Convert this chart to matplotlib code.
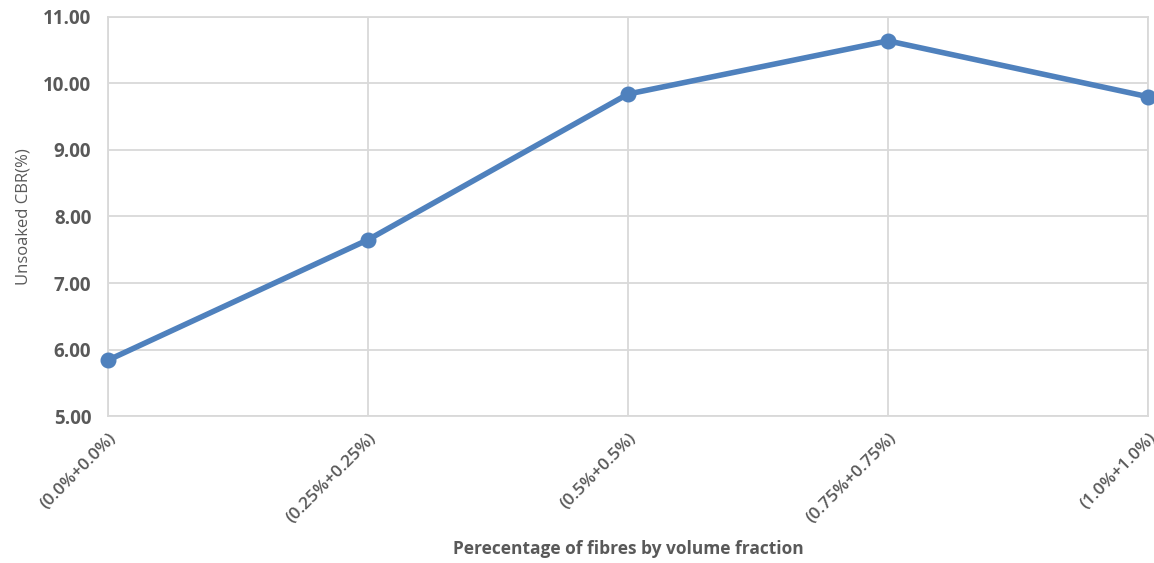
import matplotlib
matplotlib.use("Agg")
import matplotlib.pyplot as plt

categories = ["(0.0%+0.0%)", "(0.25%+0.25%)", "(0.5%+0.5%)", "(0.75%+0.75%)", "(1.0%+1.0%)"]
cbr_values = [5.84, 7.65, 9.84, 10.64, 9.80]
y_ticks = [5, 6, 7, 8, 9, 10, 11]

plt.rcParams['font.family'] = ['Open Sans', 'DejaVu Sans']

fig = plt.figure(figsize=(11.54, 5.63), dpi=100)
ax = fig.add_axes([0.0936, 0.261, 0.9012, 0.709])

x = list(range(len(categories)))
ax.plot(x, cbr_values, color="#4f81bd", lw=4.0, marker="o", markersize=10.5,
        solid_capstyle="round", zorder=3, clip_on=False)

ax.set_xlim(0, len(categories) - 1)
ax.set_ylim(5, 11)
ax.set_yticks(y_ticks)
ax.set_yticklabels([f"{v:.2f}" for v in y_ticks], fontsize=13.5, fontweight="bold", color="#595959")
ax.set_xticks(x)
ax.set_xticklabels(categories, rotation=45, ha="right", va="top", rotation_mode="anchor",
                   fontsize=12.5, fontweight="semibold", color="#595959")
ax.tick_params(axis="y", length=0, pad=12)
ax.tick_params(axis="x", length=0, pad=10)

ax.grid(True, color="#d9d9d9", lw=1.3)
ax.set_axisbelow(True)
for s in ax.spines.values():
    s.set_color("#d9d9d9")
    s.set_linewidth(1.3)

ax.set_ylabel("Unsoaked CBR(%)", fontsize=12, color="#595959", labelpad=8)
ax.set_xlabel("Perecentage of fibres by volume fraction", fontsize=12.5, fontweight="bold",
              color="#595959", labelpad=10)

fig.savefig("out.png", dpi=100, facecolor="white")
